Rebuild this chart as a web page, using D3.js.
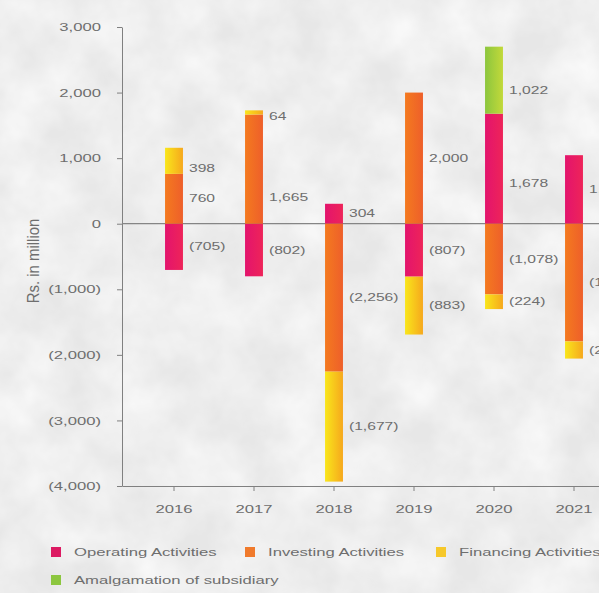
<!DOCTYPE html>
<html>
<head>
<meta charset="utf-8">
<script src="https://cdn.jsdelivr.net/npm/d3@7"></script>
<style>
  html, body { margin: 0; padding: 0; background: #ececec; }
  svg { display: block; font-family: "Liberation Sans", Arial, sans-serif; }
</style>
</head>
<body>
<svg id="chart" width="599" height="593"></svg>
<script>
// Cash flow components, Rs. in million
const years = ["2016", "2017", "2018", "2019", "2020", "2021"];
const operating    = [-705, -802,   304,  -807,  1678,  1045];
const investing    = [ 760, 1665, -2256,  2000, -1078, -1795];
const financing    = [ 398,   64, -1677,  -883,  -224,  -262];
const amalgamation = [   0,    0,     0,     0,  1022,     0];

const seriesKeys   = ["Operating", "Investing", "Financing", "Amalgamation"];
const seriesLabels = ["Operating Activities", "Investing Activities",
                      "Financing Activities", "Amalgamation of subsidiary"];
const yTickValues  = [3000, 2000, 1000, 0, -1000, -2000, -3000, -4000];
const yAxisTitle   = "Rs. in million";

const rows = years.map((y, i) => ({
  year: y,
  Operating: operating[i],
  Investing: investing[i],
  Financing: financing[i],
  Amalgamation: amalgamation[i]
}));

const svg = d3.select("#chart");
const W = 599, H = 593;
const SX = 1.45;               // wide letterforms
const textColor = "#6e6e6e";
const axisColor = "#808080";

// paper-like background
const defs = svg.append("defs");
const tex = defs.append("filter").attr("id", "paper")
  .attr("x", 0).attr("y", 0).attr("width", "100%").attr("height", "100%");
tex.append("feTurbulence").attr("type", "fractalNoise")
  .attr("baseFrequency", 0.018).attr("numOctaves", 4).attr("seed", 7);
tex.append("feColorMatrix").attr("type", "matrix")
  .attr("values", "0 0 0 0 1  0 0 0 0 1  0 0 0 0 1  1.2 0 0 0 -0.3");
svg.append("rect").attr("width", W).attr("height", H).attr("fill", "#e7e7e7");
svg.append("rect").attr("width", W).attr("height", H).attr("filter", "url(#paper)");

// bar fills
const gradStops = {
  Operating:    ["#e3146d", "#ee2459"],
  Investing:    ["#f47a1f", "#ee5f2a"],
  Financing:    ["#f9e61b", "#f6a81d"],
  Amalgamation: ["#8cc63e", "#c2d93a"]
};
const legendColors = {
  Operating: "#dc1a62", Investing: "#f07a2c", Financing: "#f6c82a", Amalgamation: "#8cc63f"
};
seriesKeys.forEach(k => {
  const g = defs.append("linearGradient").attr("id", "g-" + k)
    .attr("x1", 0).attr("y1", 0).attr("x2", 1).attr("y2", 0);
  g.append("stop").attr("offset", "0%").attr("stop-color", gradStops[k][0]);
  g.append("stop").attr("offset", "100%").attr("stop-color", gradStops[k][1]);
});

// scales
const x = d3.scaleBand().domain(years).range([122, 626]).padding(0.3);
const y = d3.scaleLinear().domain([-4000, 3000]).range([486, 27]);
const barW = x.bandwidth() * 0.32;
const cx = d => x(d) + x.bandwidth() / 2;

const fmtNum = d3.format(",");
const fmt = v => v < 0 ? `(${fmtNum(-v)})` : fmtNum(v);

// y axis
const yAxis = svg.append("g").attr("transform", "translate(122,0)")
  .call(d3.axisLeft(y).tickValues(yTickValues).tickSize(5).tickSizeOuter(0).tickFormat(fmt));
yAxis.select(".domain").attr("stroke", axisColor);
yAxis.selectAll(".tick line").attr("stroke", axisColor);
yAxis.selectAll(".tick text")
  .attr("fill", textColor).attr("font-size", 11.5)
  .attr("x", -21 / SX).attr("transform", `scale(${SX},1)`);

// x axis
const xAxis = svg.append("g").attr("transform", "translate(0,486)")
  .call(d3.axisBottom(x).tickSize(5).tickSizeOuter(0));
xAxis.select(".domain").attr("stroke", axisColor);
xAxis.selectAll(".tick line").attr("stroke", axisColor);
xAxis.selectAll(".tick text")
  .attr("fill", textColor).attr("font-size", 11.5)
  .attr("y", 19).attr("transform", `scale(${SX},1)`);

// zero line
svg.append("line")
  .attr("x1", 122).attr("x2", 626)
  .attr("y1", y(0)).attr("y2", y(0))
  .attr("stroke", "#858585").attr("stroke-width", 1.2);

// axis title
svg.append("text")
  .attr("transform", `translate(33,${261}) rotate(-90) scale(1.3,${SX})`)
  .attr("text-anchor", "middle").attr("dominant-baseline", "central")
  .attr("font-size", 11.5).attr("fill", textColor)
  .text(yAxisTitle);

// stacked bars (diverging)
const stacked = d3.stack().keys(seriesKeys).offset(d3.stackOffsetDiverging)(rows);

const layers = svg.append("g").selectAll("g").data(stacked).join("g")
  .attr("fill", d => `url(#g-${d.key})`);
layers.selectAll("rect").data(d => d.map(s => Object.assign(s, { key: d.key })))
  .join("rect")
  .attr("x", d => cx(d.data.year) - barW / 2)
  .attr("width", barW)
  .attr("y", d => y(Math.max(d[0], d[1])))
  .attr("height", d => Math.abs(y(d[0]) - y(d[1])));

// value labels beside each segment
const labelNudge = {
  "2016|Financing": 8, "2017|Investing": 28, "2017|Financing": 4,
  "2020|Operating": 15, "2020|Amalgamation": 10
};
const labelData = [];
stacked.forEach(layer => layer.forEach(s => {
  const v = s.data[layer.key];
  if (v === 0) return;
  labelData.push({
    year: s.data.year, key: layer.key, v,
    ym: (y(s[0]) + y(s[1])) / 2 + (labelNudge[s.data.year + "|" + layer.key] || 0)
  });
}));
svg.append("g").selectAll("text").data(labelData).join("text")
  .attr("transform", d => `translate(${cx(d.year) + barW / 2 + 6},${d.ym}) scale(${SX},1)`)
  .attr("dominant-baseline", "central")
  .attr("font-size", 10.8).attr("fill", textColor)
  .text(d => fmt(d.v));

// legend
const legendPos = [[51, 552], [245, 552], [436, 552], [51, 580]];
const lg = svg.append("g").selectAll("g").data(seriesKeys).join("g")
  .attr("transform", (d, i) => `translate(${legendPos[i][0]},${legendPos[i][1]})`);
lg.append("rect").attr("x", 0).attr("y", -5).attr("width", 10).attr("height", 10)
  .attr("fill", d => legendColors[d]);
lg.append("text")
  .attr("transform", `translate(23,0) scale(${SX},1)`)
  .attr("dominant-baseline", "central")
  .attr("font-size", 11.5).attr("fill", textColor)
  .text((d, i) => seriesLabels[i]);
</script>
</body>
</html>
